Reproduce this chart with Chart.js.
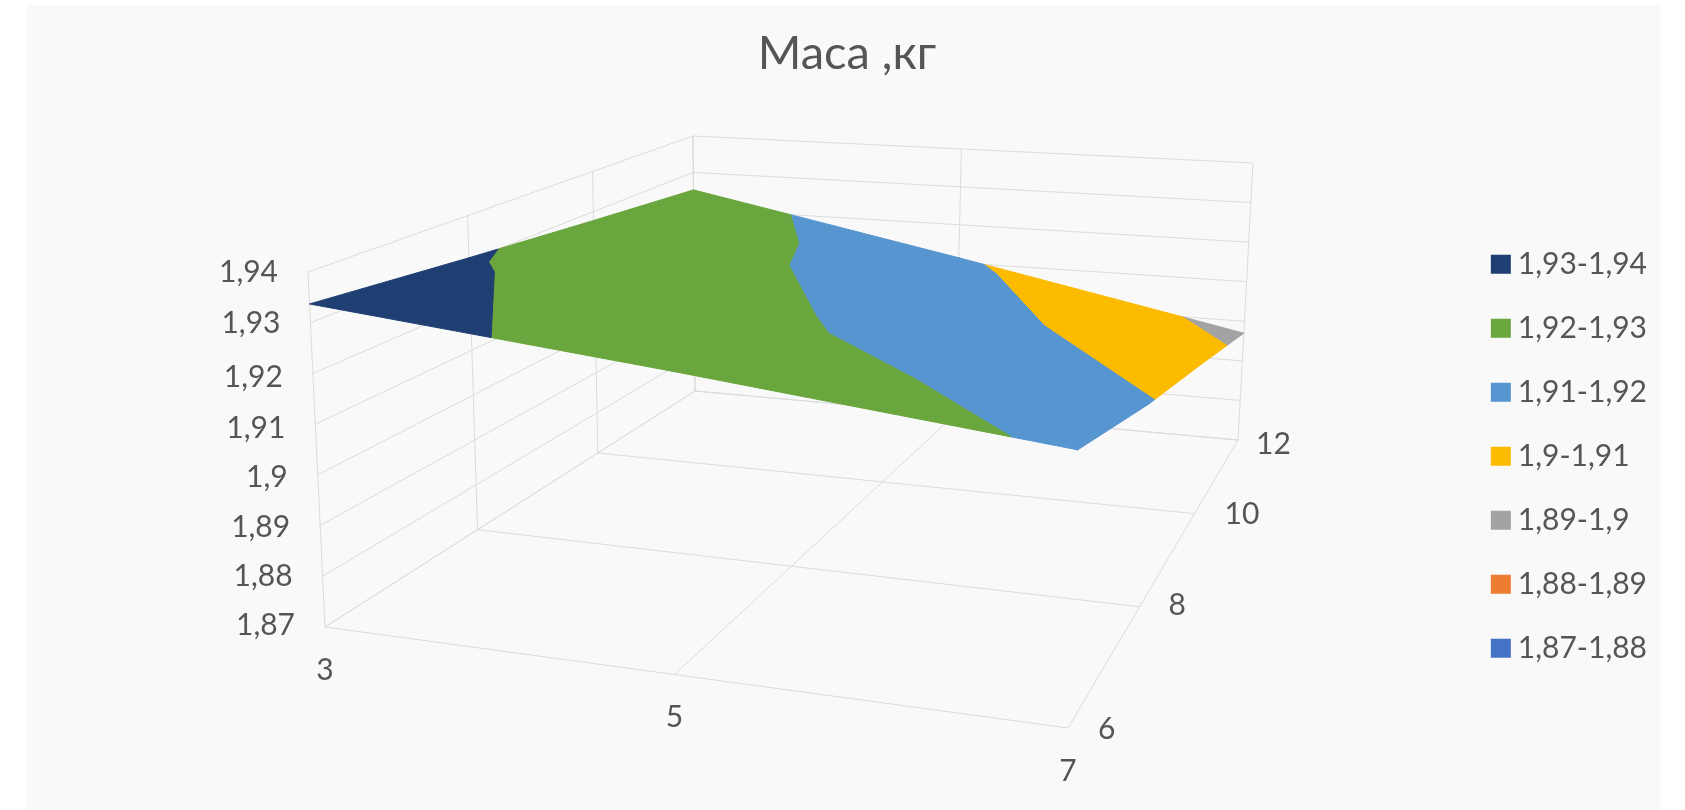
<!DOCTYPE html>
<html lang="uk">
<head>
<meta charset="utf-8">
<title>Маса, кг</title>
<script src="https://cdn.jsdelivr.net/npm/chart.js@4/dist/chart.umd.min.js"></script>
<style>
  html, body { margin: 0; background: #fff; }
  canvas { display: block; filter: blur(0.6px); }
</style>
</head>
<body>
<canvas id="surface" width="1685" height="810"></canvas>
<script>
// ── Chart data ─────────────────────────────────────────────────────

const xCategories = [3, 5, 7];
const depthSeries = [6, 8, 10, 12];
const massTicks = [1.87, 1.88, 1.89, 1.9, 1.91, 1.92, 1.93, 1.94];

// mass at x = 3, 5, 7 for every depth series
const massDepth6 = [1.9337, 1.9265, 1.9188];
const massDepth8 = [1.9306, 1.9211, 1.9107];
const massDepth10 = [1.9278, 1.9163, 1.904];
const massDepth12 = [1.9252, 1.9113, 1.897];

const bandColors = ['#1f3f73', '#69a63d', '#5795d1', '#fdbb00', '#a3a3a3', '#ed7d31', '#4472c4'];

// ── Layout of the 3D box (canvas pixels) ───────────────────────────

const FLOOR = [[325, 627], [1068, 728], [1238, 440], [695, 391]];
const ROOF = [[308, 272], [1082, 329], [1253, 163], [693, 136]];
const MASS_LABEL_DY = [-2, 0, 2, 2, 4, 4, 1, 0];
const DEPTH_LABEL_DX = [30, 29, 30, 18];
const DEPTH_LABEL_DY = [1, -1, 1, 4];
const TEXT = '#555555';
const FONT = 'Lato, "Open Sans", sans-serif';

// ── Projection ─────────────────────────────────────────────────────

function quadMap([[x0, y0], [x1, y1], [x2, y2], [x3, y3]]) {
  const dx1 = x1 - x2, dx2 = x3 - x2, sx = x0 - x1 + x2 - x3;
  const dy1 = y1 - y2, dy2 = y3 - y2, sy = y0 - y1 + y2 - y3;
  const den = dx1 * dy2 - dx2 * dy1;
  const g = (sx * dy2 - dx2 * sy) / den;
  const h = (dx1 * sy - sx * dy1) / den;
  return (u, v) => {
    const w = g * u + h * v + 1;
    return [
      ((x1 - x0 + g * x1) * u + (x3 - x0 + h * x3) * v + x0) / w,
      ((y1 - y0 + g * y1) * u + (y3 - y0 + h * y3) * v + y0) / w,
    ];
  };
}

const floorMap = quadMap(FLOOR);
const roofMap = quadMap(ROOF);
const X_MIN = xCategories[0], X_MAX = xCategories[xCategories.length - 1];
const D_MIN = depthSeries[0], D_MAX = depthSeries[depthSeries.length - 1];
const Z_MIN = massTicks[0], Z_MAX = massTicks[massTicks.length - 1];

function project(cat, depth, mass) {
  const u = (cat - X_MIN) / (X_MAX - X_MIN);
  const v = (depth - D_MIN) / (D_MAX - D_MIN);
  const w = (mass - Z_MIN) / (Z_MAX - Z_MIN);
  const a = floorMap(u, v), b = roofMap(u, v);
  return { x: a[0] + (b[0] - a[0]) * w, y: a[1] + (b[1] - a[1]) * w };
}

// ── Iso-bands ──────────────────────────────────────────────────────

const GAP = { x: null, y: null };
const massRows = [massDepth6, massDepth8, massDepth10, massDepth12];

function clipAt(poly, level, keepAbove) {
  const out = [];
  poly.forEach((p, i) => {
    const q = poly[(i + 1) % poly.length];
    const pIn = keepAbove ? p.z >= level : p.z <= level;
    const qIn = keepAbove ? q.z >= level : q.z <= level;
    if (pIn) out.push(p);
    if (pIn !== qIn) {
      const t = (level - p.z) / (q.z - p.z);
      out.push({ c: p.c + (q.c - p.c) * t, d: p.d + (q.d - p.d) * t, z: level });
    }
  });
  return out;
}

function surfaceTriangles() {
  const node = (i, j) => ({ c: xCategories[i], d: depthSeries[j], z: massRows[j][i] });
  const tris = [];
  for (let j = 0; j < depthSeries.length - 1; j++) {
    for (let i = 0; i < xCategories.length - 1; i++) {
      tris.push([node(i, j), node(i + 1, j), node(i, j + 1)]);
      tris.push([node(i + 1, j), node(i + 1, j + 1), node(i, j + 1)]);
    }
  }
  return tris;
}

function bandPoints(lo, hi) {
  const pts = [];
  surfaceTriangles().forEach(tri => {
    let poly = clipAt(tri, lo, true);
    if (poly.length) poly = clipAt(poly, hi, false);
    if (poly.length < 3) return;
    poly.forEach(p => pts.push(project(p.c, p.d, p.z)));
    pts.push(project(poly[0].c, poly[0].d, poly[0].z), GAP);
  });
  return pts;
}

function fmt(v) {
  return String(v).replace('.', ',');
}

const bandDatasets = bandColors.map((color, i) => {
  const hi = massTicks[massTicks.length - 1 - i];
  const lo = massTicks[massTicks.length - 2 - i];
  return {
    label: `${fmt(lo)}-${fmt(hi)}`,
    data: bandPoints(lo, hi),
    showLine: true,
    fill: 'shape',
    spanGaps: false,
    backgroundColor: color,
    borderColor: color,
    borderWidth: 1,
    pointRadius: 0,
    order: 1,
  };
});

// ── Box grid ───────────────────────────────────────────────────────

function gridPoints() {
  const pts = [];
  const seg = (a, b) => pts.push(project(...a), project(...b), GAP);
  xCategories.forEach(c => {
    seg([c, D_MIN, Z_MIN], [c, D_MAX, Z_MIN]);
    seg([c, D_MAX, Z_MIN], [c, D_MAX, Z_MAX]);
  });
  depthSeries.forEach(d => {
    seg([X_MIN, d, Z_MIN], [X_MAX, d, Z_MIN]);
    seg([X_MIN, d, Z_MIN], [X_MIN, d, Z_MAX]);
  });
  massTicks.forEach(m => {
    seg([X_MIN, D_MIN, m], [X_MIN, D_MAX, m]);
    seg([X_MIN, D_MAX, m], [X_MAX, D_MAX, m]);
  });
  return pts;
}

const gridDataset = {
  label: 'grid',
  data: gridPoints(),
  showLine: true,
  fill: false,
  spanGaps: false,
  borderColor: '#dcdcdc',
  borderWidth: 1,
  pointRadius: 0,
  order: 2,
};

// ── Plugins ────────────────────────────────────────────────────────

// hidden scales read in canvas pixels, whatever room title and legend take
const pixelScales = {
  id: 'pixelScales',
  afterLayout(chart) {
    const { x, y } = chart.scales;
    x.min = x.left; x.max = x.right; x.configure();
    y.min = y.top; y.max = y.bottom; y.configure();
  },
};

const backdrop = {
  id: 'backdrop',
  beforeDraw({ ctx, width, height }) {
    ctx.save();
    ctx.fillStyle = '#fff';
    ctx.fillRect(0, 0, width, height);
    ctx.fillStyle = '#f9f9f9';
    ctx.fillRect(26, 5, 1634, height - 5);
    ctx.restore();
  },
};

const axisLabels = {
  id: 'axisLabels',
  afterDatasetsDraw(chart) {
    const { ctx, scales: { x, y } } = chart;
    const put = (text, p, dx, dy, align) => {
      ctx.textAlign = align;
      ctx.fillText(text, x.getPixelForValue(p.x) + dx, y.getPixelForValue(p.y) + dy);
    };
    ctx.save();
    ctx.font = `30px ${FONT}`;
    ctx.fillStyle = TEXT;
    ctx.textBaseline = 'middle';
    massTicks.forEach((m, i) => put(fmt(m), project(X_MIN, D_MIN, m), -30, MASS_LABEL_DY[i], 'right'));
    xCategories.forEach(c => put(fmt(c), project(c, D_MIN, Z_MIN), 0, 43, 'center'));
    depthSeries.forEach((d, i) => put(fmt(d), project(X_MAX, d, Z_MIN), DEPTH_LABEL_DX[i], DEPTH_LABEL_DY[i], 'left'));
    ctx.restore();
  },
};

// ── Chart ──────────────────────────────────────────────────────────

new Chart(document.getElementById('surface'), {
  type: 'scatter',
  data: { datasets: [...bandDatasets, gridDataset] },
  plugins: [pixelScales, backdrop, axisLabels],
  options: {
    responsive: false,
    animation: false,
    layout: { padding: { left: 37, right: 28 } },
    scales: {
      x: { type: 'linear', display: false },
      y: { type: 'linear', display: false, reverse: true },
    },
    plugins: {
      tooltip: { enabled: false },
      title: {
        display: true,
        text: 'Маса ,кг',
        color: TEXT,
        font: { family: FONT, size: 47, weight: 'normal' },
        padding: { top: 26, bottom: 20 },
      },
      legend: {
        position: 'right',
        fullSize: false,
        labels: {
          // small box plus a thick stroke: swatch stays 20px, text sits closer to it
          boxWidth: 4,
          boxHeight: 3,
          padding: 34,
          color: TEXT,
          font: { family: FONT, size: 30 },
          generateLabels: chart => Chart.defaults.plugins.legend.labels.generateLabels(chart)
            .filter(item => item.datasetIndex < bandColors.length)
            .map(item => ({ ...item, lineWidth: 16 })),
        },
      },
    },
  },
});
</script>
</body>
</html>
